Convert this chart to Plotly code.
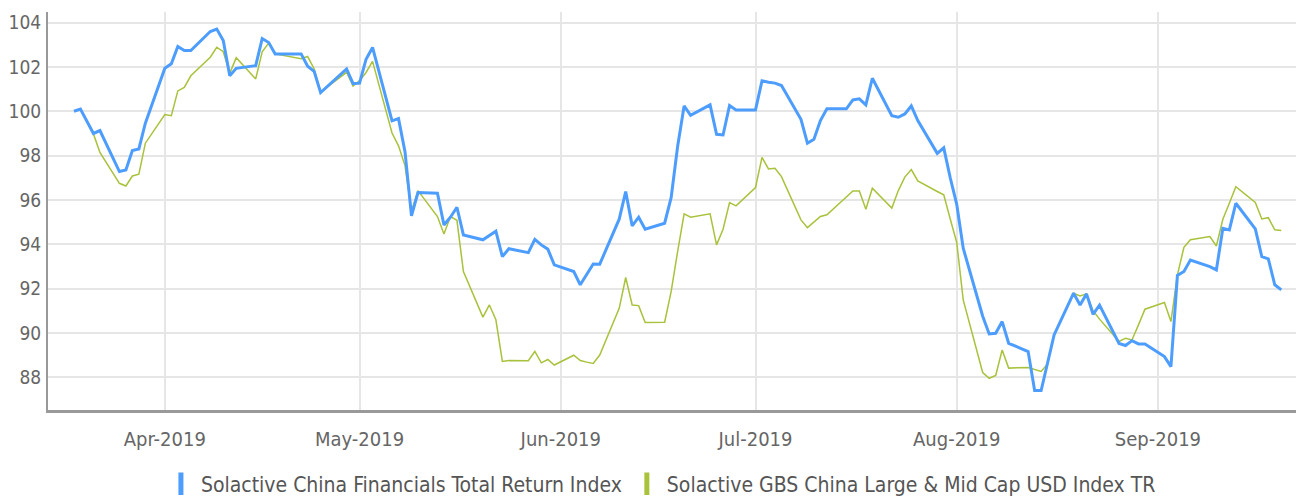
import plotly.graph_objects as go

dates = [
    "2019-03-18", "2019-03-19", "2019-03-21", "2019-03-22", "2019-03-25", "2019-03-26", "2019-03-27", "2019-03-28", "2019-03-29",
    "2019-04-01", "2019-04-02", "2019-04-03", "2019-04-04", "2019-04-05", "2019-04-08", "2019-04-09", "2019-04-10", "2019-04-11", "2019-04-12",
    "2019-04-15", "2019-04-16", "2019-04-17", "2019-04-18", "2019-04-22", "2019-04-23", "2019-04-24", "2019-04-25", "2019-04-29", "2019-04-30",
    "2019-05-01", "2019-05-02", "2019-05-03", "2019-05-06", "2019-05-07", "2019-05-08", "2019-05-09", "2019-05-10",
    "2019-05-13", "2019-05-14", "2019-05-15", "2019-05-16", "2019-05-17", "2019-05-20", "2019-05-21", "2019-05-22", "2019-05-23", "2019-05-24",
    "2019-05-27", "2019-05-28", "2019-05-29", "2019-05-30", "2019-05-31",
    "2019-06-03", "2019-06-04", "2019-06-05", "2019-06-06", "2019-06-07", "2019-06-10", "2019-06-11", "2019-06-12", "2019-06-13", "2019-06-14",
    "2019-06-17", "2019-06-18", "2019-06-19", "2019-06-20", "2019-06-21", "2019-06-24", "2019-06-25", "2019-06-26", "2019-06-27", "2019-06-28",
    "2019-07-01", "2019-07-02", "2019-07-03", "2019-07-04", "2019-07-05", "2019-07-08", "2019-07-09", "2019-07-10", "2019-07-11", "2019-07-12",
    "2019-07-15", "2019-07-16", "2019-07-17", "2019-07-18", "2019-07-19", "2019-07-22", "2019-07-23", "2019-07-24", "2019-07-25", "2019-07-26",
    "2019-07-29", "2019-07-30", "2019-07-31", "2019-08-01", "2019-08-02", "2019-08-05", "2019-08-06", "2019-08-07", "2019-08-08", "2019-08-09",
    "2019-08-12", "2019-08-13", "2019-08-14", "2019-08-15", "2019-08-16", "2019-08-19", "2019-08-20", "2019-08-21", "2019-08-22", "2019-08-23",
    "2019-08-26", "2019-08-27", "2019-08-28", "2019-08-29", "2019-08-30",
    "2019-09-02", "2019-09-03", "2019-09-04", "2019-09-05", "2019-09-06", "2019-09-09", "2019-09-10", "2019-09-11", "2019-09-12", "2019-09-13",
    "2019-09-16", "2019-09-17", "2019-09-18", "2019-09-19", "2019-09-20",
]

china_financials = [
    100.0, 100.1, 99.0, 99.13, 97.28, 97.35, 98.23, 98.3, 99.46,
    101.94, 102.14, 102.92, 102.74, 102.74, 103.6, 103.71, 103.19, 101.6, 101.94,
    102.06, 103.28, 103.1, 102.59, 102.59, 102.03, 101.8, 100.84, 101.91, 101.25,
    101.27, 102.35, 102.88, 99.57, 99.67, 98.18, 95.28, 96.33,
    96.3, 94.87, 95.22, 95.67, 94.42, 94.2, 94.38, 94.59, 93.44, 93.8,
    93.62, 94.22, 93.97, 93.78, 93.07,
    92.77, 92.17, 92.65, 93.11, 93.1, 95.13, 96.38, 94.83, 95.22, 94.68,
    94.95, 96.1, 98.41, 100.24, 99.82, 100.29, 98.96, 98.93, 100.26, 100.06,
    100.06, 101.38, 101.31, 101.27, 101.16, 99.64, 98.56, 98.74, 99.58, 100.11,
    100.11, 100.51, 100.56, 100.29, 101.49, 99.8, 99.73, 99.88, 100.24, 99.58,
    98.1, 98.35, 97.0, 95.8, 93.82, 90.75, 89.95, 89.98, 90.51, 89.53,
    89.16, 87.4, 87.4, 88.65, 89.91, 91.79, 91.26, 91.76, 90.84, 91.25,
    89.52, 89.43, 89.65, 89.5, 89.5,
    88.93, 88.48, 92.59, 92.77, 93.29, 92.99, 92.84, 94.72, 94.65, 95.85,
    94.69, 93.44, 93.34, 92.17, 91.94,
]

gbs_china = [
    100.0, 100.1, 98.98, 98.14, 96.75, 96.63, 97.08, 97.16, 98.56,
    99.85, 99.8, 100.92, 101.08, 101.6, 102.44, 102.89, 102.69, 101.71, 102.42,
    101.46, 102.68, 103.08, 102.59, 102.37, 102.47, 101.92, 100.87, 101.76, 101.14,
    101.38, 101.75, 102.25, 99.02, 98.44, 97.55, 95.5, 96.42,
    95.25, 94.46, 95.25, 95.08, 92.77, 90.71, 91.26, 90.59, 88.71, 88.75,
    88.74, 89.16, 88.65, 88.8, 88.55,
    88.99, 88.75, 88.68, 88.62, 89.0, 91.11, 92.5, 91.26, 91.23, 90.47,
    90.48, 91.86, 93.67, 95.37, 95.22, 95.37, 93.97, 94.68, 95.88, 95.73,
    96.56, 97.92, 97.4, 97.43, 97.05, 95.1, 94.75, 95.02, 95.25, 95.33,
    96.15, 96.4, 96.4, 95.58, 96.53, 95.63, 96.42, 97.03, 97.37, 96.86,
    96.38, 96.23, 95.14, 94.08, 91.49, 88.21, 87.95, 88.08, 89.23, 88.41,
    88.44, 88.36, 88.26, 88.6, 89.91, 91.79, 91.67, 91.76, 91.0, 90.62,
    89.61, 89.76, 89.68, 90.36, 91.07,
    91.37, 90.51, 92.62, 93.86, 94.2, 94.35, 93.92, 95.13, 95.85, 96.6,
    95.89, 95.14, 95.2, 94.65, 94.62,
]

series_names = [
    "Solactive China Financials Total Return Index",
    "Solactive GBS China Large & Mid Cap USD Index TR",
]
month_ticks = ["2019-04-01", "2019-05-01", "2019-06-01", "2019-07-01", "2019-08-01", "2019-09-01"]
month_labels = ["Apr-2019", "May-2019", "Jun-2019", "Jul-2019", "Aug-2019", "Sep-2019"]
y_ticks = [88, 90, 92, 94, 96, 98, 100, 102, 104]

BLUE = "#4d9dff"
GREEN = "#a8c23c"
FONT = "DejaVu Sans Condensed, Roboto, sans-serif"

fig = go.Figure()
fig.add_trace(go.Scatter(x=dates, y=gbs_china, mode="lines", line=dict(color=GREEN, width=1.5),
                         showlegend=False, hoverinfo="skip"))
fig.add_trace(go.Scatter(x=dates, y=china_financials, mode="lines", line=dict(color=BLUE, width=3),
                         showlegend=False, hoverinfo="skip"))
for name, col in zip(series_names, [BLUE, GREEN]):
    fig.add_trace(go.Scatter(x=[None], y=[None], mode="markers", name=name,
                             marker=dict(symbol="line-ns", size=16, color=col,
                                         line=dict(color=col, width=7))))

# the page body has an 8px default margin, so the figure is sized to 1296x490
fig.update_layout(
    width=1296, height=490,
    margin=dict(l=40, r=0, t=4, b=88, autoexpand=False),
    paper_bgcolor="white", plot_bgcolor="white",
    font=dict(family=FONT, color="#666666", size=20),
    legend=dict(orientation="h", x=0.488, xanchor="center", y=-0.186, yanchor="middle",
                font=dict(size=21, color="#555555"), itemwidth=30, tracegroupgap=0,
                bgcolor="rgba(0,0,0,0)"),
    xaxis=dict(
        type="date", range=["2019-03-14", "2019-09-23 12:00"],
        tickvals=month_ticks, ticktext=month_labels,
        showgrid=True, gridcolor="#e6e6e6", gridwidth=2,
        showline=True, linecolor="#999999", linewidth=2.5,
        ticks="outside", ticklen=9, tickcolor="rgba(0,0,0,0)",
        tickfont=dict(size=20, color="#666666"), zeroline=False, automargin=False,
    ),
    yaxis=dict(
        range=[86.52, 104.48], tickvals=y_ticks,
        showgrid=True, gridcolor="#e6e6e6", gridwidth=2,
        showline=True, linecolor="#999999", linewidth=2,
        ticks="outside", ticklen=1, tickcolor="rgba(0,0,0,0)",
        tickfont=dict(size=19, color="#666666"), zeroline=False, automargin=False,
    ),
)

fig.write_html("out.html")
